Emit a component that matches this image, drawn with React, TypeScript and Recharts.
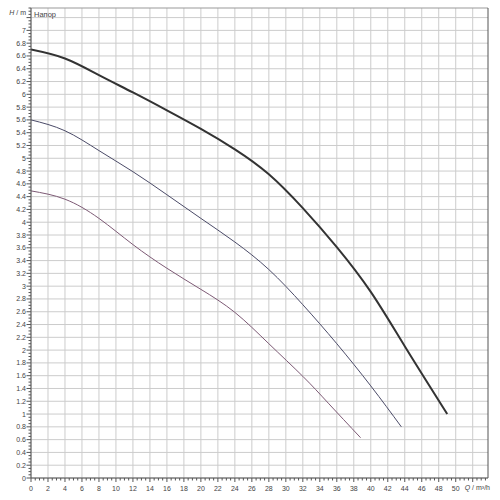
import React from 'react';
import { LineChart, Line, XAxis, YAxis, CartesianGrid, ReferenceLine } from 'recharts';

// Curve 1 (thick)
const q1 = [0, 4, 8, 12, 16, 20, 24, 28, 32, 36, 40, 44, 49];
const h1 = [6.7, 6.56, 6.3, 6.03, 5.75, 5.46, 5.14, 4.75, 4.22, 3.61, 2.91, 2.06, 1.0];
// Curve 2
const q2 = [0, 4, 8, 12, 16, 20, 24, 28, 32, 36, 40, 43.6];
const h2 = [5.6, 5.43, 5.12, 4.79, 4.43, 4.06, 3.69, 3.26, 2.71, 2.1, 1.44, 0.8];
// Curve 3
const q3 = [0, 4, 8, 12, 16, 20, 24, 28, 32, 35, 38.8];
const h3 = [4.49, 4.36, 4.06, 3.65, 3.28, 2.95, 2.59, 2.1, 1.59, 1.17, 0.63];

const xMajor = [0, 2, 4, 6, 8, 10, 12, 14, 16, 18, 20, 22, 24, 26, 28, 30, 32, 34, 36, 38, 40, 42, 44, 46, 48, 50, 52];
const xLabels = ['0', '2', '4', '6', '8', '10', '12', '14', '16', '18', '20', '22', '24', '26', '28', '30', '32', '34', '36', '38', '40', '42', '44', '46', '48', '50', ''];
const yMajor = [0, 0.2, 0.4, 0.6, 0.8, 1, 1.2, 1.4, 1.6, 1.8, 2, 2.2, 2.4, 2.6, 2.8, 3, 3.2, 3.4, 3.6, 3.8, 4, 4.2, 4.4, 4.6, 4.8, 5, 5.2, 5.4, 5.6, 5.8, 6, 6.2, 6.4, 6.6, 6.8, 7, 7.2];
const yLabels = ['0', '0.2', '0.4', '0.6', '0.8', '1', '1.2', '1.4', '1.6', '1.8', '2', '2.2', '2.4', '2.6', '2.8', '3', '3.2', '3.4', '3.6', '3.8', '4', '4.2', '4.4', '4.6', '4.8', '5', '5.2', '5.4', '5.6', '5.8', '6', '6.2', '6.4', '6.6', '6.8', '7', ''];

const X_MAX = 53.8;
const Y_MAX = 7.35;

const xTicks = Array.from({ length: 108 }, (_, i) => (i * 5) / 10);
const yTicks = Array.from({ length: 148 }, (_, i) => (i * 5) / 100);

const s1 = q1.map((q, i) => ({ q, h: h1[i] }));
const s2 = q2.map((q, i) => ({ q, h: h2[i] }));
const s3 = q3.map((q, i) => ({ q, h: h3[i] }));

const TXT = '#444';
const FONT = '"Liberation Sans", Arial, sans-serif';

const XTick = (props: any) => {
  const { x, y, payload } = props;
  const v = payload.value as number;
  const idx = xMajor.findIndex((m) => Math.abs(m - v) < 1e-6);
  const major = idx >= 0;
  return (
    <g>
      <line x1={x} x2={x} y1={y} y2={y + (major ? 4 : 2.5)} stroke="#555" strokeWidth={1} />
      {major && xLabels[idx] !== '' && (
        <text x={x} y={y + 13} textAnchor="middle" fontSize={7} fill={TXT} fontFamily={FONT}>
          {xLabels[idx]}
        </text>
      )}
    </g>
  );
};

const YTick = (props: any) => {
  const { x, y, payload } = props;
  const v = payload.value as number;
  const idx = yMajor.findIndex((m) => Math.abs(m - v) < 1e-6);
  const major = idx >= 0;
  return (
    <g>
      <line x1={x} x2={x - (major ? 4.5 : 2.5)} y1={y} y2={y} stroke="#555" strokeWidth={1} />
      {major && yLabels[idx] !== '' && (
        <text x={x - 5} y={y + 2.5} textAnchor="end" fontSize={7} fill={TXT} fontFamily={FONT}>
          {yLabels[idx]}
        </text>
      )}
    </g>
  );
};

export default function App() {
  return (
    <div style={{ position: 'absolute', left: 0, top: 0, width: 500, height: 500, background: '#fff', fontFamily: FONT }}>
      <LineChart width={500} height={500} margin={{ top: 8, right: 12, bottom: 0, left: 0 }}>
        <CartesianGrid stroke="#cccccc" verticalValues={xMajor} horizontalValues={yMajor} />
        <XAxis
          type="number"
          dataKey="q"
          domain={[0, X_MAX]}
          ticks={xTicks}
          interval={0}
          tickSize={0}
          tickMargin={0}
          tickLine={false}
          tick={<XTick />}
          height={22}
          stroke="#555"
          allowDataOverflow
        />
        <YAxis
          type="number"
          domain={[0, Y_MAX]}
          ticks={yTicks}
          interval={0}
          tickSize={0}
          tickMargin={0}
          tickLine={false}
          tick={<YTick />}
          width={31}
          stroke="#555"
          allowDataOverflow
        />
        <ReferenceLine y={Y_MAX} stroke="#999" />
        <ReferenceLine x={X_MAX} stroke="#555" />
        <Line data={s3} dataKey="h" type="natural" stroke="#7d5a75" strokeWidth={1} dot={false} isAnimationActive={false} />
        <Line data={s2} dataKey="h" type="natural" stroke="#4b4b68" strokeWidth={1} dot={false} isAnimationActive={false} />
        <Line data={s1} dataKey="h" type="natural" stroke="#333" strokeWidth={2} dot={false} isAnimationActive={false} />
      </LineChart>
      <div style={{ position: 'absolute', left: 0, width: 26, top: 9, textAlign: 'right', fontSize: 7, lineHeight: '8px', color: TXT }}>
        <i>H</i> / m
      </div>
      <div style={{ position: 'absolute', left: 34, top: 11, fontSize: 7.5, lineHeight: '8px', color: TXT }}>Напор</div>
      <div style={{ position: 'absolute', left: 462, width: 28, top: 484, textAlign: 'right', fontSize: 7, lineHeight: '8px', color: TXT }}>
        <i>Q</i> / m³/h
      </div>
    </div>
  );
}
